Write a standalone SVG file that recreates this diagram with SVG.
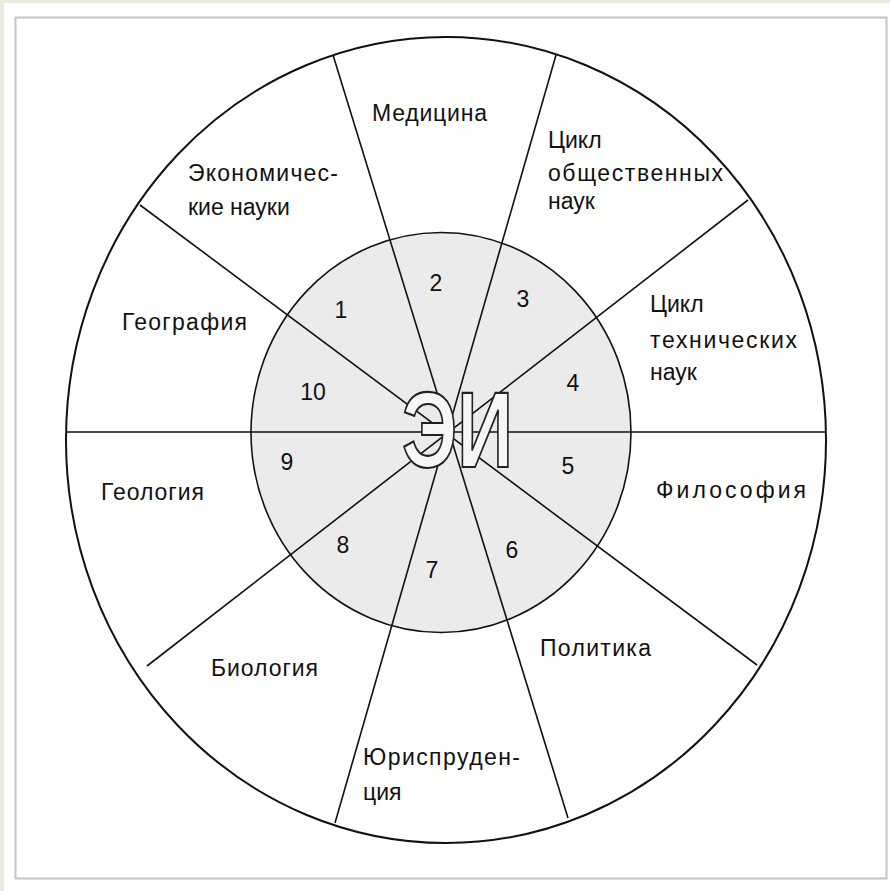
<svg xmlns="http://www.w3.org/2000/svg" width="890" height="891" viewBox="0 0 890 891">
<style>
.lbl{font-family:"Liberation Sans",Arial,sans-serif;font-size:23px;fill:#111}
.num{font-family:"Liberation Sans",Arial,sans-serif;font-size:23px;fill:#111;text-anchor:middle}
.ln{stroke:#111;stroke-width:1.6;fill:none}
</style>
<rect x="0" y="0" width="890" height="891" fill="#ebebe1"/>
<rect x="4" y="3" width="886" height="888" fill="#ffffff"/>
<rect x="15.5" y="17.5" width="871" height="861" fill="#ffffff" stroke="#c4c4c4" stroke-width="2"/>
<g id="outer-circle">
<ellipse cx="446" cy="440" rx="380" ry="403" fill="#ffffff" stroke="#111" stroke-width="2"/>
</g>
<g id="inner-circle">
<ellipse cx="441" cy="432.5" rx="190" ry="200" fill="#ebebeb" stroke="#111" stroke-width="1.6"/>
</g>
<g id="connectors">
<line class="ln" x1="66" y1="432" x2="826" y2="432"/>
<line class="ln" x1="140" y1="205" x2="757" y2="665"/>
<line class="ln" x1="333" y1="55" x2="568" y2="818"/>
<line class="ln" x1="556" y1="55" x2="335" y2="823"/>
<line class="ln" x1="748" y1="200" x2="147" y2="666"/>
</g>
<g id="center-logo">
<text x="402" y="467" font-family="Liberation Sans,Arial,sans-serif" font-size="107" font-weight="bold" textLength="111" lengthAdjust="spacingAndGlyphs" fill="#f6f6f6" stroke="#222" stroke-width="2.2">ЭИ</text>
</g>
<g id="sector-1"><text class="num" x="341" y="318">1</text><text class="lbl" x="188" y="181" textLength="150">Экономичес-</text><text class="lbl" x="188" y="215">кие науки</text></g>
<g id="sector-2"><text class="num" x="436" y="291">2</text><text class="lbl" x="372" y="121" textLength="115">Медицина</text></g>
<g id="sector-3"><text class="num" x="523" y="307">3</text><text class="lbl" x="548" y="148">Цикл</text><text class="lbl" x="548" y="181" textLength="175">общественных</text><text class="lbl" x="548" y="209">наук</text></g>
<g id="sector-4"><text class="num" x="573" y="391">4</text><text class="lbl" x="650" y="312">Цикл</text><text class="lbl" x="650" y="348" textLength="147">технических</text><text class="lbl" x="650" y="380">наук</text></g>
<g id="sector-5"><text class="num" x="568" y="474">5</text><text class="lbl" x="656" y="498" textLength="150">Философия</text></g>
<g id="sector-6"><text class="num" x="512" y="558">6</text><text class="lbl" x="540" y="656" textLength="111">Политика</text></g>
<g id="sector-7"><text class="num" x="432" y="578">7</text><text class="lbl" x="363" y="765" textLength="157">Юриспруден-</text><text class="lbl" x="363" y="800">ция</text></g>
<g id="sector-8"><text class="num" x="343" y="553">8</text><text class="lbl" x="211" y="676" textLength="107">Биология</text></g>
<g id="sector-9"><text class="num" x="287" y="470">9</text><text class="lbl" x="101" y="500" textLength="103">Геология</text></g>
<g id="sector-10"><text class="num" x="313" y="400">10</text><text class="lbl" x="122" y="330" textLength="125">География</text></g>
</svg>
